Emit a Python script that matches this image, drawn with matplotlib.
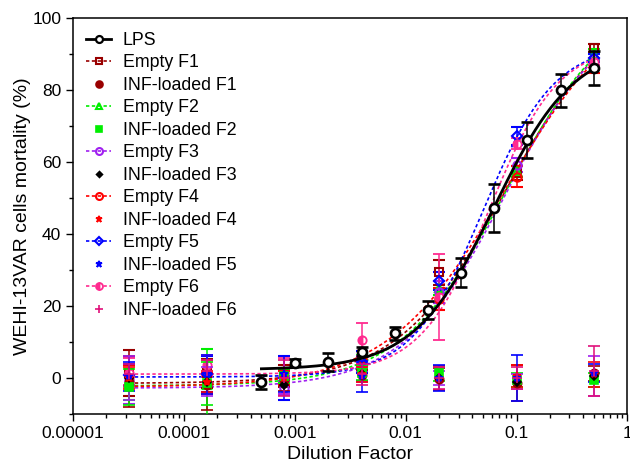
import numpy as np
import matplotlib
matplotlib.use("Agg")
import matplotlib.pyplot as plt
from matplotlib.lines import Line2D

plt.rcParams['font.family'] = ['Liberation Sans', 'DejaVu Sans']

# LPS reference (dilution factor, mortality %, SD)
lps_x = [0.0005, 0.001, 0.002, 0.004, 0.008, 0.016, 0.03125, 0.0625, 0.125, 0.25, 0.5]
lps_y = [-1.1, 4.3, 4.4, 7.3, 12.5, 18.8, 29.3, 47.4, 66.3, 80.0, 86.3]
lps_err = [2.0, 1.0, 2.5, 1.2, 1.8, 2.5, 4.0, 6.7, 5.0, 4.5, 4.7]
# 4PL fit: bottom, top, EC50, hill
lps_fit = [2.3, 93.0, 0.063, 1.2]

# formulations, all share the same dilutions
dil_x = [3.2e-5, 1.6e-4, 8e-4, 4e-3, 0.02, 0.1, 0.5]

names = ['F1', 'F2', 'F3', 'F4', 'F5', 'F6']

empty_y = [
    [1.4, 1.3, 0.5, 5.5, 29.4, 57.0, 91.8],
    [-1.0, -2.0, 0.5, 4.5, 25.0, 57.5, 90.0],
    [-0.6, -1.5, -2.8, 4.0, 24.0, 59.3, 88.6],
    [0.5, -1.5, 0.0, 5.5, 22.0, 56.0, 86.3],
    [0.8, 1.0, 0.0, 4.5, 27.1, 67.2, 89.0],
    [1.5, 3.5, 0.5, 10.6, 22.6, 65.2, 88.0],
]
empty_err = [
    [6.5, 4.0, 3.0, 2.0, 3.5, 2.0, 1.0],
    [5.0, 10.0, 2.0, 2.0, 2.0, 1.5, 1.5],
    [6.5, 3.0, 2.0, 2.0, 3.0, 2.0, 1.5],
    [3.0, 3.0, 2.0, 2.0, 3.0, 3.0, 1.5],
    [3.0, 5.0, 6.0, 3.0, 2.5, 2.5, 1.0],
    [4.0, 3.0, 5.0, 4.7, 12.0, 1.5, 1.0],
]
# 4PL fits for the empty formulations: bottom, top, EC50, hill
empty_fit = [
    [-1.5, 106.0, 0.080, 0.90],
    [-2.2, 106.0, 0.080, 0.92],
    [-2.8, 104.0, 0.078, 0.95],
    [-2.5, 108.0, 0.080, 0.82],
    [0.3, 93.0, 0.050, 1.35],
    [1.1, 93.0, 0.057, 1.40],
]

inf_y = [
    [-1.0, -2.0, -0.5, 0.8, -0.3, -1.3, 1.3],
    [-2.4, -1.5, 0.5, 1.4, 1.3, -0.6, -0.6],
    [0.0, -1.0, -2.0, 1.0, 0.0, -1.0, 0.5],
    [0.0, -1.0, 0.0, 1.0, 0.0, 0.5, 1.0],
    [0.5, 1.0, 1.0, 0.5, 0.0, 0.0, 1.5],
    [1.0, 2.0, 0.0, 1.0, 0.0, 0.0, 2.0],
]
inf_err = [
    [7.0, 7.0, 3.0, 1.5, 3.0, 5.0, 2.0],
    [5.0, 6.0, 2.0, 2.0, 2.0, 2.0, 2.0],
    [6.0, 4.0, 2.5, 2.0, 2.0, 2.0, 5.5],
    [3.0, 3.0, 2.0, 2.0, 3.3, 3.0, 3.5],
    [4.0, 5.5, 5.0, 4.3, 3.5, 6.3, 2.5],
    [3.0, 3.0, 5.0, 3.0, 3.0, 3.0, 7.0],
]

colors = ['#990000', '#00ee00', '#a020f0', '#ff0000', '#0000ff', '#ff2a8f']
inf_colors = ['#990000', '#00ee00', '#000000', '#ff0000', '#0000ff', '#e0107a']
inf_ecolors = ['#990000', '#00ee00', '#a020f0', '#ff0000', '#0000ff', '#e0107a']
empty_markers = ['s', '^', 'o', 'o', 'D', 'o']
empty_sizes = [6, 6, 6, 6, 5, 6]
inf_markers = ['o', 's', 'D', '*', '*', '+']
inf_sizes = [6, 6, 4, 6, 6, 7]


def four_pl(x, p):
    b, t, ec, h = p
    return b + (t - b) / (1 + 10 ** ((np.log10(ec) - np.log10(x)) * h))


fig = plt.figure(figsize=(6.3, 4.67), dpi=100)
ax = fig.add_axes([0.1159, 0.1135, 0.880, 0.8469])

handles = []

# LPS
xx = np.logspace(np.log10(lps_x[0]), np.log10(lps_x[-1]), 200)
ax.plot(xx, four_pl(xx, lps_fit), color='black', lw=2.0, zorder=6)
ax.errorbar(lps_x, lps_y, yerr=lps_err, fmt='o', ms=6.5, mfc='white', mec='black',
            mew=1.9, ecolor='black', elinewidth=1.1, capsize=4, capthick=1.1, zorder=7)
handles.append(Line2D([], [], color='black', lw=2.0, marker='o', ms=5, mfc='white',
                      mec='black', mew=1.6, label='LPS'))

xx = np.logspace(np.log10(dil_x[0]), np.log10(dil_x[-1]), 200)
for i, nm in enumerate(names):
    c = colors[i]
    ax.plot(xx, four_pl(xx, empty_fit[i]), color=c, lw=1.2, ls=(0, (2, 1.5)), zorder=3)
    kw = dict(mfc='none', mec=c, mew=1.5)
    if i == 5:
        kw = dict(mfc=c, mec=c, mew=1.3, fillstyle='left', mfcalt='white')
    ax.errorbar(dil_x, empty_y[i], yerr=empty_err[i], fmt=empty_markers[i], ms=empty_sizes[i],
                ecolor=c, elinewidth=1.1, capsize=4, capthick=1.1, zorder=4, **kw)
    handles.append(Line2D([], [], color=c, lw=1.2, ls=(0, (2, 1.5)),
                          marker=empty_markers[i], ms=empty_sizes[i] - 1,
                          label='Empty ' + nm, **kw))

    ci = inf_colors[i]
    ax.errorbar(dil_x, inf_y[i], yerr=inf_err[i], fmt=inf_markers[i], ms=inf_sizes[i],
                mfc=ci, mec=ci, mew=1.2, ecolor=inf_ecolors[i], elinewidth=1.1,
                capsize=4, capthick=1.1, zorder=5)
    handles.append(Line2D([], [], ls='none', marker=inf_markers[i], ms=inf_sizes[i] - 1,
                          mfc=ci, mec=ci, mew=1.2, label='INF-loaded ' + nm))

ax.set_xscale('log')
ax.set_xlim(1e-5, 1)
ax.set_ylim(-10, 100)
ax.set_xticks([1e-5, 1e-4, 1e-3, 1e-2, 1e-1, 1])
ax.set_xticklabels(['0.00001', '0.0001', '0.001', '0.01', '0.1', '1'])
ax.set_yticks([0, 20, 40, 60, 80, 100])
ax.set_yticks([-10, 10, 30, 50, 70, 90], minor=True)
ax.tick_params(which='major', length=5, width=1, labelsize=12.5, direction='out')
ax.tick_params(which='minor', length=3, width=1, direction='out')
for s in ax.spines.values():
    s.set_linewidth(1.1)

ax.set_xlabel('Dilution Factor', fontsize=14, labelpad=4)
ax.set_ylabel('WEHI-13VAR cells mortality (%)', fontsize=14, labelpad=1)

ax.legend(handles=handles, loc='upper left', bbox_to_anchor=(0.0, 1.0), frameon=False,
          fontsize=12.8, handlelength=1.4, handletextpad=0.65, labelspacing=0.31,
          borderaxespad=0.45, borderpad=0.3)

fig.savefig('out.png', dpi=100)
